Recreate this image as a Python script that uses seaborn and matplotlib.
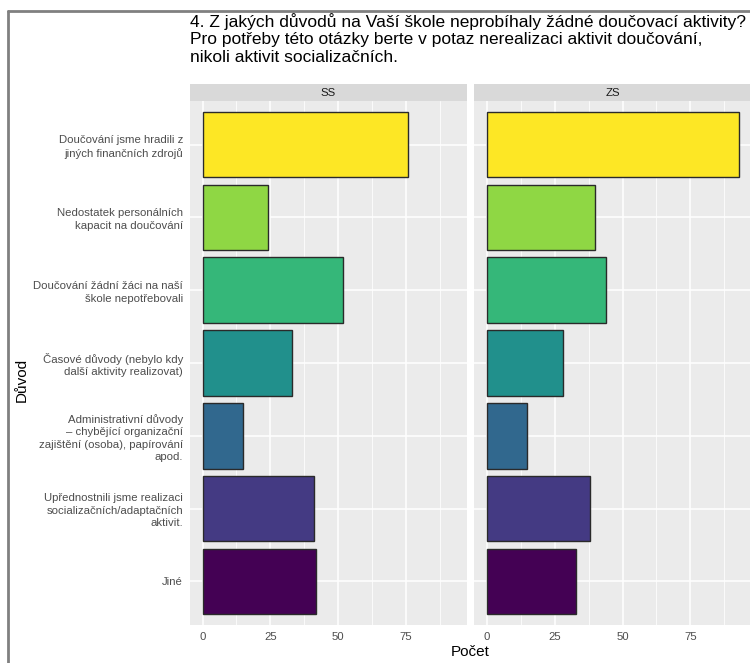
import matplotlib
matplotlib.use("Agg")
import matplotlib.pyplot as plt
import seaborn as sns
import pandas as pd
from matplotlib.lines import Line2D

categories = [
    "Doučování jsme hradili z\njiných finančních zdrojů",
    "Nedostatek personálních\nkapacit na doučování",
    "Doučování žádní žáci na naší\nškole nepotřebovali",
    "Časové důvody (nebylo kdy\ndalší aktivity realizovat)",
    "Administrativní důvody\n– chybějící organizační\nzajištění (osoba), papírování\napod.",
    "Upřednostnili jsme realizaci\nsocializačních/adaptačních\naktivit.",
    "Jiné",
]
ss_values = [76, 24, 52, 33, 15, 41, 42]
zs_values = [93, 40, 44, 28, 15, 38, 33]
panels = ["SS", "ZS"]
x_ticks = [0, 25, 50, 75]
colors = ["#FDE725", "#8FD744", "#35B779", "#21908C", "#31688E", "#443A83", "#440154"]

title = ("4. Z jakých důvodů na Vaší škole neprobíhaly žádné doučovací aktivity?\n"
         "Pro potřeby této otázky berte v potaz nerealizaci aktivit doučování,\n"
         "nikoli aktivit socializačních.")

df = pd.DataFrame({
    "Důvod": categories * 2,
    "Počet": ss_values + zs_values,
    "panel": ["SS"] * len(categories) + ["ZS"] * len(categories),
})

sns.set_style("white")
plt.rcParams["font.family"] = ["Liberation Sans", "DejaVu Sans"]

W, H = 750, 663
fig = plt.figure(figsize=(7.5, 6.63), dpi=100)

def frac(x0, y0, x1, y1):
    return [x0 / W, 1 - y1 / H, (x1 - x0) / W, (y1 - y0) / H]

panel_px = [(190, 467), (474, 752)]
top, bottom = 101, 625
strip_top = 84
xlim = (-4.65, 97.65)
pal = dict(zip(categories, colors))
tick_fs = 8.2

for i, (name, (x0, x1)) in enumerate(zip(panels, panel_px)):
    ax = fig.add_axes(frac(x0, top, x1, bottom))
    sub = df[df["panel"] == name]
    sns.barplot(data=sub, y="Důvod", x="Počet", hue="Důvod", order=categories,
                hue_order=categories, palette=pal, orient="h", width=0.9,
                saturation=1, edgecolor="#2a2a2a", linewidth=1.0, legend=False,
                ax=ax, zorder=3)
    ax.set_facecolor("#EBEBEB")
    ax.set_xlim(*xlim)
    ax.set_ylim(6.6, -0.6)
    ax.set_xticks(x_ticks)
    ax.set_xticks([12.5, 37.5, 62.5, 87.5], minor=True)
    ax.grid(True, which="major", color="white", linewidth=1.1, zorder=0)
    ax.grid(True, which="minor", axis="x", color="white", linewidth=0.55, zorder=0)
    ax.set_axisbelow(True)
    for s in ax.spines.values():
        s.set_visible(False)
    ax.tick_params(axis="x", which="major", length=3, width=0.8, color="#333333",
                   labelsize=tick_fs, labelcolor="#4D4D4D", pad=2)
    ax.tick_params(axis="x", which="minor", length=0)
    ax.set_xlabel("")
    ax.set_ylabel("")
    if i == 0:
        ax.tick_params(axis="y", length=3, width=0.8, color="#333333",
                       labelsize=tick_fs, labelcolor="#4D4D4D", pad=2)
        for lab in ax.get_yticklabels():
            lab.set_multialignment("right")
            lab.set_linespacing(1.3)
    else:
        ax.tick_params(axis="y", length=0, labelleft=False)
    # strip
    sax = fig.add_axes(frac(x0, strip_top, x1, top))
    sax.set_facecolor("#D9D9D9")
    sax.set_xticks([]); sax.set_yticks([])
    for s in sax.spines.values():
        s.set_visible(False)
    sax.text(0.5, 0.5, name, ha="center", va="center", fontsize=tick_fs,
             color="#1A1A1A", transform=sax.transAxes)

fig.text(190 / W, 1 - 13 / H, title, ha="left", va="top", fontsize=12.5,
         color="black", linespacing=1.2)
fig.text(22 / W, 1 - 380 / H, "Důvod", rotation=90, ha="center", va="center",
         fontsize=11, color="black")
fig.text(470 / W, 1 - 652 / H, "Počet", ha="center", va="center",
         fontsize=11, color="black")

# outer frame
fig.add_artist(Line2D([8 / W, 8 / W], [0, 1 - 11 / H], color="#808080", linewidth=2,
                      transform=fig.transFigure))
fig.add_artist(Line2D([8 / W, 1], [1 - 11 / H, 1 - 11 / H], color="#808080", linewidth=2,
                      transform=fig.transFigure))

fig.savefig("out.png", dpi=100)
